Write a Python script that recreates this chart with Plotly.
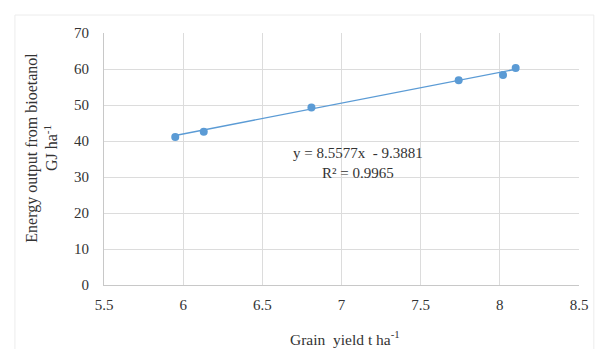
import plotly.graph_objects as go

# Data
grain_yield = [5.95, 6.13, 6.81, 7.74, 8.02, 8.10]
energy_output = [41.1, 42.6, 49.3, 56.9, 58.3, 60.3]

# Trendline coefficients shown on the chart
slope = 8.5577
intercept = -9.3881
r_squared = 0.9965

x_ticks = [5.5, 6, 6.5, 7, 7.5, 8, 8.5]
y_ticks = [0, 10, 20, 30, 40, 50, 60, 70]

blue = "#5b9bd5"
serif = "Liberation Serif, Times New Roman, serif"
text_color = "#333333"

trend_x = [min(grain_yield), max(grain_yield)]
trend_y = [slope * v + intercept for v in trend_x]

fig = go.Figure()
fig.add_trace(go.Scatter(x=trend_x, y=trend_y, mode="lines",
                         line=dict(color=blue, width=1.3), hoverinfo="skip",
                         showlegend=False))
fig.add_trace(go.Scatter(x=grain_yield, y=energy_output, mode="markers",
                         marker=dict(color=blue, size=8), showlegend=False))

tick_font = dict(family=serif, size=15, color=text_color)

fig.update_layout(
    width=600, height=349,
    margin=dict(l=104, r=16, t=33, b=64),
    paper_bgcolor="white", plot_bgcolor="white",
    font=dict(family=serif, size=15, color=text_color),
    xaxis=dict(range=[5.5, 8.5], tickvals=x_ticks, ticktext=[str(v) for v in x_ticks],
               tickfont=tick_font,
               showgrid=True, gridcolor="#dcdcdc", gridwidth=1, zeroline=False,
               showline=True, linecolor="#c8c8c8", ticks="", ticklabelstandoff=6,
               fixedrange=True),
    yaxis=dict(range=[0, 70], tickvals=y_ticks, ticktext=[str(v) for v in y_ticks],
               tickfont=tick_font,
               showgrid=True, gridcolor="#dcdcdc", gridwidth=1, zeroline=False,
               showline=True, linecolor="#c8c8c8", ticks="", ticklabelstandoff=11,
               fixedrange=True),
    shapes=[dict(type="rect", xref="paper", yref="paper",
                 x0=(14 - 104) / 480, x1=(599 - 104) / 480,
                 y0=(285 - 360) / 252, y1=(285 - 15) / 252,
                 line=dict(color="#ececec", width=1), layer="below")],
    annotations=[
        dict(text="Energy output from bioetanol<br>GJ ha<sup>-1</sup>", textangle=-90,
             xref="paper", yref="paper", x=(41 - 104) / 480, y=(285 - 148) / 252,
             xanchor="center", yanchor="middle", showarrow=False,
             font=dict(family=serif, size=16, color=text_color)),
        dict(text="Grain  yield t ha<sup>-1</sup>", xref="paper", yref="paper",
             x=(348 - 104) / 480, y=(285 - 338) / 252, xanchor="center", yanchor="middle",
             showarrow=False, font=dict(family=serif, size=15.5, color=text_color)),
        dict(text=f"y = {slope}x  - {abs(intercept)}", xref="x", yref="y",
             x=5.5 + (361 - 104) / 160, y=(285 - 153) / 3.6, xanchor="center",
             yanchor="middle", showarrow=False,
             font=dict(family=serif, size=15, color=text_color)),
        dict(text=f"R² = {r_squared}", xref="x", yref="y",
             x=5.5 + (361 - 104) / 160, y=(285 - 173) / 3.6, xanchor="center",
             yanchor="middle", showarrow=False,
             font=dict(family=serif, size=15, color=text_color)),
    ],
)

fig.write_html("out.html")
